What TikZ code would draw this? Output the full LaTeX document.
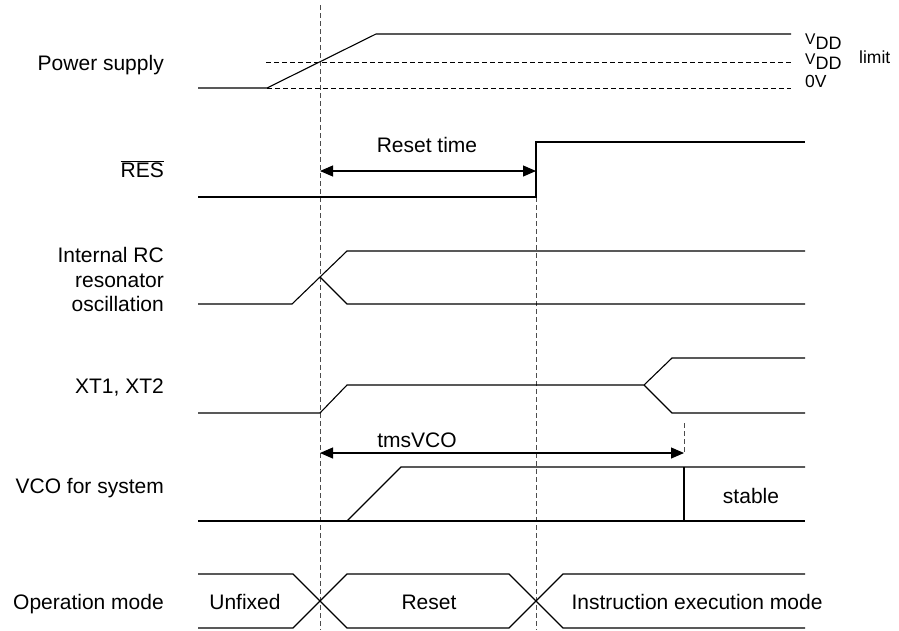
\documentclass[tikz,border=0pt]{standalone}
\usepackage{fontspec}
\setmainfont{Liberation Sans}
\usetikzlibrary{arrows.meta}
\begin{document}
\begin{tikzpicture}[x=1pt,y=-1pt,
  sig/.style={line width=1.1pt, line join=miter},
  hdash/.style={line width=1pt, dash pattern=on 5pt off 3pt},
  vdash/.style={line width=1pt, draw=black!70, dash pattern=on 5pt off 3pt},
  dimarrow/.style={line width=1.1pt, {Triangle[length=13pt,width=11pt]}-{Triangle[length=13pt,width=11pt]}},
  lbl/.style={font=\fontsize{21}{25}\selectfont, inner sep=0pt, anchor=base east},
  txt/.style={font=\fontsize{21}{25}\selectfont, inner sep=0pt, anchor=base},
  vlbl/.style={font=\fontsize{17.5}{20}\selectfont, inner sep=0pt, anchor=base west}]
\useasboundingbox (0,0) rectangle (899,630);

% left labels
\node[lbl] (lps) at (164,70) {Power supply};
\node[lbl] (lres) at (164,177) {$\overline{\mbox{RES}}$};
\node[lbl] (lrc1) at (164,262) {Internal RC};
\node[lbl] (lrc2) at (164,287) {resonator};
\node[lbl] (lrc3) at (164,311) {oscillation};
\node[lbl] (lxt) at (164,393) {XT1, XT2};
\node[lbl] (lvco) at (164,493) {VCO for system};
\node[lbl] (lop) at (164,609) {Operation mode};

% vertical dashed markers
\draw[vdash] (320,5) -- (320,630);
\draw[vdash] (536,197) -- (536,630);

% power supply
\draw[sig] (198,88) -- (267,88) -- (376,34) -- (791,34);
\draw[hdash] (266,62) -- (791,62);
\draw[hdash] (267,88) -- (791,88);
\node[vlbl] (vdd) at (805,44) {\fontsize{15.5}{18}\selectfont V\raisebox{-5pt}{\fontsize{18}{20}\selectfont DD}};
\node[vlbl] (vddl) at (805,64) {\fontsize{15.5}{18}\selectfont V\raisebox{-5pt}{\fontsize{18}{20}\selectfont DD}};
\node[vlbl] (lim) at (859,63) {limit};
\node[vlbl] (zv) at (805,87) {0V};

% RES
\draw[sig] (198,197) -- (536,197) -- (536,142) -- (805,142);
\coordinate (rt1) at (320,171);
\coordinate (rt2) at (536,171);
\draw[dimarrow] (rt1) -- (rt2);
\node[txt] (rtime) at (427,152) {Reset time};

% Internal RC
\draw[sig] (198,304) -- (292,304) -- (347,251) -- (805,251);
\draw[sig] (320,277) -- (347,304) -- (805,304);

% XT1, XT2
\draw[sig] (198,413) -- (320,413) -- (347,385) -- (644,385) -- (672,358) -- (805,358);
\draw[sig] (644,385) -- (672,413) -- (805,413);

% tmsVCO
\coordinate (tv1) at (320,453);
\coordinate (tv2) at (684,453);
\draw[dimarrow] (tv1) -- (tv2);
\draw[vdash] (684,423) -- (tv2);
\node[txt] (tms) at (417,447) {tmsVCO};

% VCO
\draw[sig] (198,521) -- (805,521);
\draw[sig] (347,521) -- (401,467) -- (805,467);
\draw[sig] (684,467) -- (684,521);
\node[txt] (stb) at (751,503) {stable};

% Operation mode
\draw[sig] (198,574) -- (293,574) -- (347,628) -- (509,628) -- (563,574) -- (805,574);
\draw[sig] (198,628) -- (293,628) -- (347,574) -- (509,574) -- (563,628) -- (805,628);
\node[txt] (unf) at (245,609) {Unfixed};
\node[txt] (rst) at (429,609) {Reset};
\node[txt] (iem) at (697,609) {Instruction execution mode};
\end{tikzpicture}
\end{document}
